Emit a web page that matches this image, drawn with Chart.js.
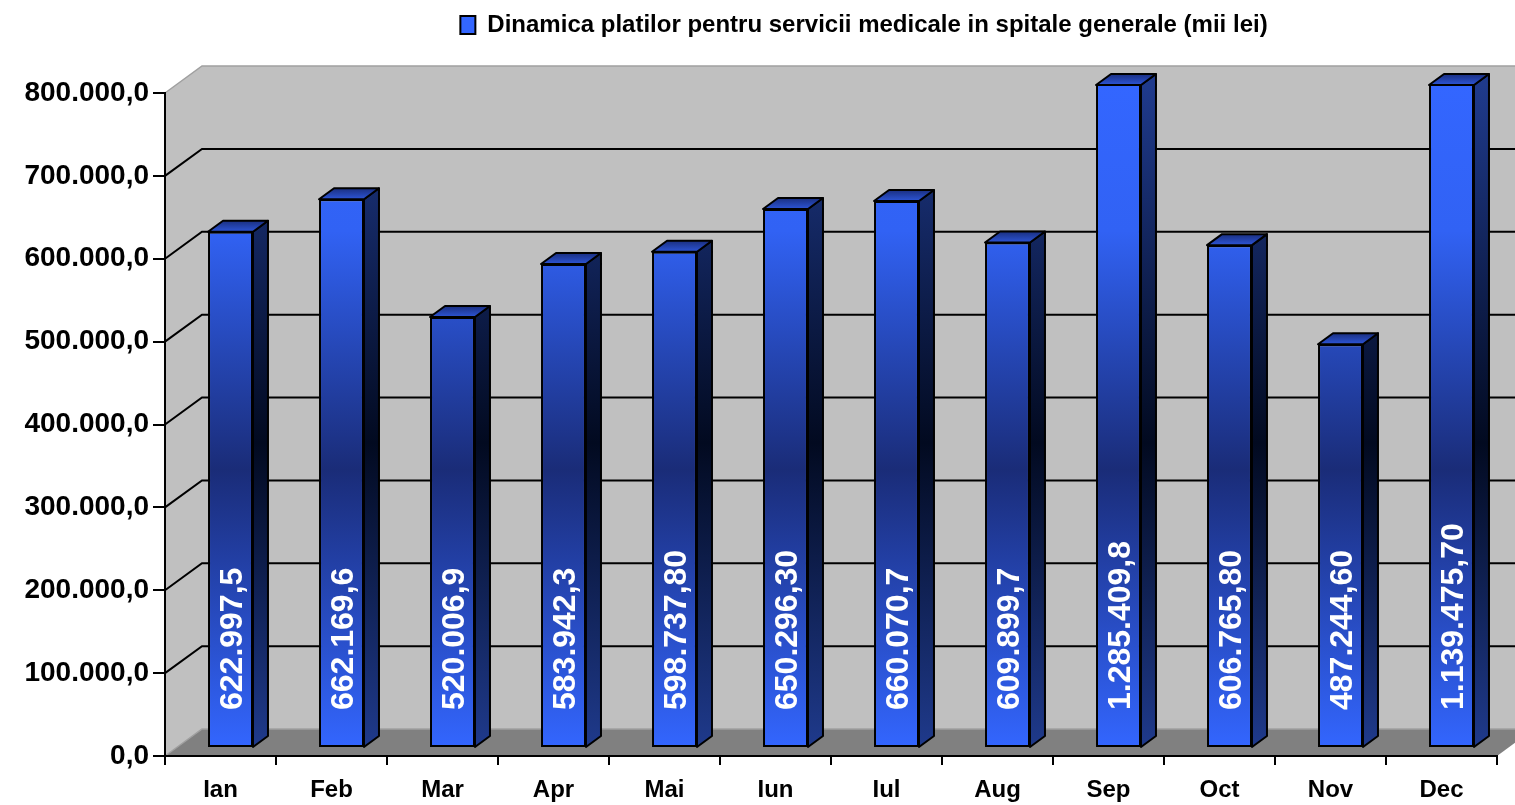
<!DOCTYPE html>
<html>
<head>
<meta charset="utf-8">
<script src="https://cdn.jsdelivr.net/npm/chart.js@4.4.1/dist/chart.umd.min.js"></script>
<style>
  html, body { margin: 0; padding: 0; background: #fff; }
  #wrap { width: 1515px; height: 805px; position: relative; }
</style>
</head>
<body>
<div id="wrap"><canvas id="chart"></canvas></div>
<script>
const months = ['Ian', 'Feb', 'Mar', 'Apr', 'Mai', 'Iun', 'Iul', 'Aug', 'Sep', 'Oct', 'Nov', 'Dec'];
const payments = [622997.5, 662169.6, 520006.9, 583942.3, 598737.80, 650296.30,
                  660070.7, 609899.7, 1285409.8, 606765.80, 487244.60, 1139475.70];
const decimals = [1, 1, 1, 1, 2, 2, 1, 1, 1, 2, 2, 2];
const seriesName = 'Dinamica platilor pentru servicii medicale in spitale generale (mii lei)';
const yMax = 800000;
const yStep = 100000;

const FONT = '"Liberation Sans", Arial, sans-serif';
const WALL = { x: 37, y: -27 };      // back wall offset from the front plane
const SHIFT = { x: 10, y: -8 };      // where the bar front faces sit
const DEPTH = { x: 15, y: -11 };     // bar thickness

// 1234567.8 -> "1.234.567,8"
function fmt(v, d) {
  const parts = v.toFixed(d).split('.');
  const int = parts[0].replace(/\B(?=(\d{3})+(?!\d))/g, '.');
  return d > 0 ? int + ',' + parts[1] : int;
}

function frontFill(context) {
  const chart = context.chart;
  const area = chart.chartArea;
  if (!area) return '#3366FF';
  const g = chart.ctx.createLinearGradient(0, area.top, 0, area.bottom);
  g.addColorStop(0, '#3366FF');
  g.addColorStop(0.22, '#3162F4');
  g.addColorStop(0.58, '#1A2C78');
  g.addColorStop(1, '#3366FF');
  return g;
}

function sideFill(ctx, area) {
  const g = ctx.createLinearGradient(0, area.top, 0, area.bottom);
  g.addColorStop(0, '#1F3A8C');
  g.addColorStop(0.54, '#020A20');
  g.addColorStop(1, '#1F3A8C');
  return g;
}

function poly(ctx, pts) {
  ctx.beginPath();
  ctx.moveTo(pts[0][0], pts[0][1]);
  for (let i = 1; i < pts.length; i++) ctx.lineTo(pts[i][0], pts[i][1]);
  ctx.closePath();
}

// room behind the bars: side wall, back wall, floor, gridlines
const room = {
  id: 'room',
  beforeInit(chart) {
    // more room under the legend, and nudge it a bit to the right
    const fit = chart.legend.fit;
    chart.legend.fit = function () {
      fit.bind(chart.legend)();
      this.height += 46;
      if (this.lineWidths && this.lineWidths.length) this.lineWidths[0] -= 66;
    };
  },
  beforeDraw(chart) {
    const { ctx, chartArea: a, scales: { y } } = chart;
    const farRight = a.right + WALL.x;
    const top = y.getPixelForValue(yMax);
    const zero = y.getPixelForValue(0);
    ctx.save();
    ctx.fillStyle = '#C0C0C0';
    poly(ctx, [[a.left, top], [a.left + WALL.x, top + WALL.y], [farRight, top + WALL.y],
               [farRight, zero + WALL.y], [a.left + WALL.x, zero + WALL.y], [a.left, zero]]);
    ctx.fill();
    ctx.fillStyle = '#808080';
    poly(ctx, [[a.left, zero], [a.left + WALL.x, zero + WALL.y], [farRight, zero + WALL.y], [a.right, zero]]);
    ctx.fill();

    ctx.strokeStyle = '#A0A0A0';
    ctx.lineWidth = 1.5;
    [top, zero].forEach(py => {
      ctx.beginPath();
      ctx.moveTo(a.left, py);
      ctx.lineTo(a.left + WALL.x, py + WALL.y);
      ctx.lineTo(farRight, py + WALL.y);
      ctx.stroke();
    });

    ctx.strokeStyle = '#000';
    ctx.lineWidth = 2;
    for (let v = yStep; v < yMax; v += yStep) {
      const py = y.getPixelForValue(v);
      ctx.beginPath();
      ctx.moveTo(a.left, py);
      ctx.lineTo(a.left + WALL.x, py + WALL.y);
      ctx.lineTo(farRight, py + WALL.y);
      ctx.stroke();
    }
    ctx.restore();
  },
  beforeDatasetsDraw(chart) {
    chart.ctx.save();
    chart.ctx.translate(SHIFT.x, SHIFT.y);
  },
  afterDatasetsDraw(chart) {
    const { ctx, chartArea: a, scales: { y } } = chart;
    ctx.restore();
    const meta = chart.getDatasetMeta(0);
    const side = sideFill(ctx, a);
    ctx.save();
    ctx.translate(SHIFT.x, SHIFT.y);
    ctx.lineWidth = 2;
    ctx.strokeStyle = '#000';
    ctx.lineJoin = 'round';
    meta.data.forEach((bar, i) => {
      const half = bar.width / 2;
      const l = bar.x - half, r = bar.x + half;
      const t = Math.max(bar.y, a.top);
      const b = bar.base;
      poly(ctx, [[r, t], [r + DEPTH.x, t + DEPTH.y], [r + DEPTH.x, b + DEPTH.y], [r, b]]);
      ctx.fillStyle = side;
      ctx.fill();
      ctx.stroke();
      const tg = ctx.createLinearGradient(0, t + DEPTH.y, 0, t);
      tg.addColorStop(0, '#1A2F80');
      tg.addColorStop(1, '#2D55D6');
      poly(ctx, [[l, t], [l + DEPTH.x, t + DEPTH.y], [r + DEPTH.x, t + DEPTH.y], [r, t]]);
      ctx.fillStyle = tg;
      ctx.fill();
      ctx.stroke();
    });

    ctx.fillStyle = '#fff';
    ctx.font = 'bold 32px ' + FONT;
    ctx.textAlign = 'left';
    ctx.textBaseline = 'middle';
    const startY = y.getPixelForValue(0) - 38;
    meta.data.forEach((bar, i) => {
      ctx.save();
      ctx.translate(bar.x + 3, startY);
      ctx.rotate(-Math.PI / 2);
      ctx.fillText(fmt(payments[i], decimals[i]), 0, 0);
      ctx.restore();
    });
    ctx.restore();
  }
};

new Chart(document.getElementById('chart'), {
  type: 'bar',
  data: {
    labels: months,
    datasets: [{
      label: seriesName,
      data: payments,
      backgroundColor: frontFill,
      borderColor: '#000',
      borderWidth: 2,
      borderSkipped: false,
      barPercentage: 0.405,
      categoryPercentage: 1,
      clip: 0
    }]
  },
  options: {
    responsive: true,
    maintainAspectRatio: false,
    animation: false,
    devicePixelRatio: 1,
    layout: { padding: { top: 0, right: 18, bottom: 0, left: 0 } },
    plugins: {
      tooltip: { enabled: false },
      legend: {
        fullSize: false,
        labels: {
          color: '#000',
          font: { family: FONT, size: 24, weight: 'bold' },
          boxWidth: 15,
          boxHeight: 18,
          padding: 13
        }
      }
    },
    scales: {
      x: {
        grid: { drawOnChartArea: false, color: '#000', lineWidth: 2, tickLength: 9, offset: true },
        border: { color: '#000', width: 2 },
        ticks: { color: '#000', font: { family: FONT, size: 24, weight: 'bold' }, padding: 11, maxRotation: 0 },
        afterFit(scale) { scale.height = 49; }
      },
      y: {
        min: 0,
        max: yMax,
        grid: { drawOnChartArea: false, color: '#000', lineWidth: 2, tickLength: 12 },
        border: { color: '#000', width: 2 },
        ticks: {
          stepSize: yStep,
          color: '#000',
          font: { family: FONT, size: 28, weight: 'bold' },
          padding: 4,
          callback: v => fmt(v, 1)
        },
        afterFit(scale) { scale.width = 165; }
      }
    }
  },
  plugins: [room]
});
</script>
</body>
</html>
